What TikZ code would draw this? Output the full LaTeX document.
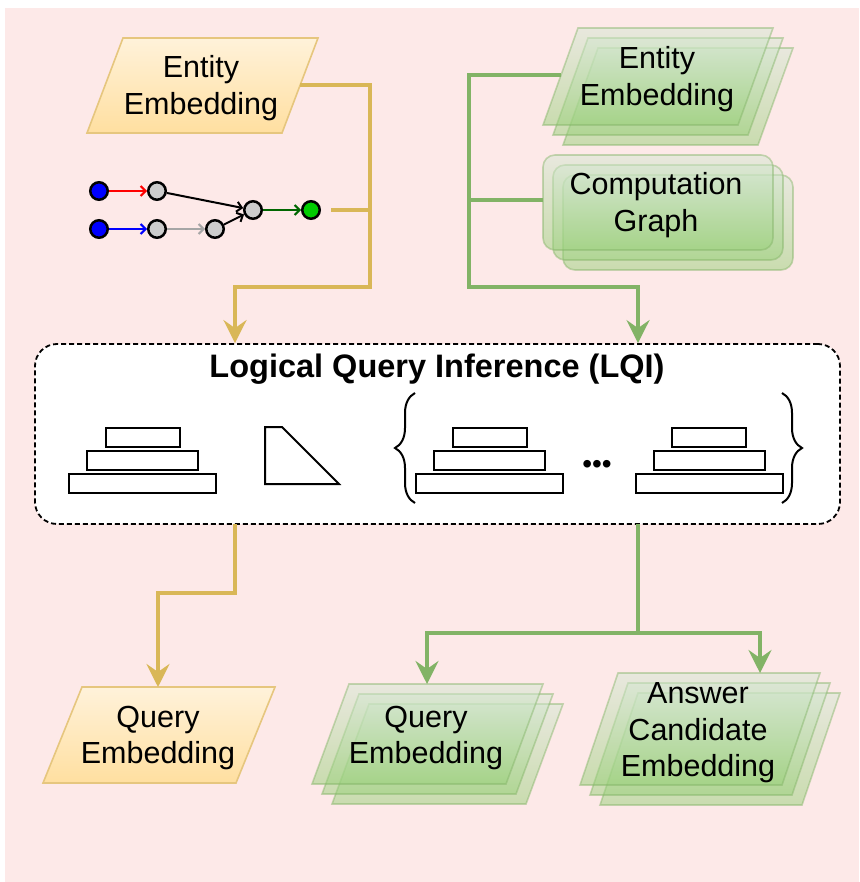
\documentclass[tikz,border=0pt]{standalone}
\usepackage{fontspec}
\setmainfont{Liberation Sans}
\usetikzlibrary{arrows.meta,decorations.pathreplacing}

\definecolor{bgpink}{HTML}{FDE9E8}
\definecolor{ystroke}{HTML}{E6C67E}
\definecolor{yline}{HTML}{D9B757}
\definecolor{ytop}{HTML}{FFF2DA}
\definecolor{ybot}{HTML}{FFDFA0}
\definecolor{gstroke}{HTML}{82B366}
\definecolor{gtop}{HTML}{D5E8D4}
\definecolor{gbot}{HTML}{97D077}
\definecolor{dgreen}{HTML}{006600}
\definecolor{nodegray}{HTML}{CCCCCC}
\definecolor{edgegray}{HTML}{A6A6A6}
\definecolor{leafgreen}{HTML}{00CC00}

% slanted box: style, bottom-left x, top y, edge length, height, slant
\newcommand\slantshape[6]{%
  \path[#1] (#2+#6,#3) -- (#2+#6+#4,#3) -- (#2+#4,#3+#5) -- (#2,#3+#5) -- cycle;}
% three stacked translucent copies, front one at the given place
\newcommand\slantstack[5]{%
  \slantshape{glayer}{#1+20}{#2+20}{#3}{#4}{#5}%
  \slantshape{glayer}{#1+10}{#2+10}{#3}{#4}{#5}%
  \slantshape{glayer}{#1}{#2}{#3}{#4}{#5}}
% stacked-bar block centred at x
\newcommand\pyr[1]{%
  \draw[blk] (#1-37,428) rectangle (#1+37,447);
  \draw[blk] (#1-55.5,451) rectangle (#1+55.5,469.5);
  \draw[blk] (#1-73.5,474) rectangle (#1+73.5,492.5);}

\begin{document}
\begin{tikzpicture}[x=1pt,y=-1pt,
  lbl/.style={font=\fontsize{30.5}{36.5}\selectfont, align=center, inner sep=0pt},
  yshape/.style={draw=ystroke, line width=1.6pt, top color=ytop, bottom color=ybot},
  glayer/.style={draw=gstroke, draw opacity=0.45, line width=1.6pt,
    top color=gtop, bottom color=gbot, fill opacity=0.5},
  yconn/.style={draw=yline, line width=3.5pt},
  gconn/.style={draw=gstroke, line width=3.5pt},
  bigtip/.style={-{Stealth[length=23pt,width=23pt,inset=8pt]}},
  gnode/.style={circle, draw, line width=2.5pt, minimum size=17.5pt, inner sep=0pt},
  gedge/.style={line width=2pt, -{Straight Barb[length=5pt,width=10pt]}},
  blk/.style={draw, line width=2pt, fill=white},
]
\useasboundingbox (0,0) rectangle (859,882);
\fill[white] (0,0) rectangle (859,882);
\fill[bgpink] (5,8) rectangle (859,882);

% ---------- inputs, left branch ----------
\slantshape{yshape}{87}{38}{195}{95}{36}
\node[lbl] (eeY) at (201,88) {Entity\\Embedding};

\node[gnode, fill=blue] (b1) at (99,191) {};
\node[gnode, fill=nodegray] (g1) at (157,191) {};
\node[gnode, fill=blue] (b2) at (99,229) {};
\node[gnode, fill=nodegray] (g2) at (157,229) {};
\node[gnode, fill=nodegray] (g3) at (215,229) {};
\node[gnode, fill=nodegray] (g4) at (253,210) {};
\node[gnode, fill=leafgreen] (tgt) at (311,210) {};
\draw[gedge, red] (b1) -- (g1);
\draw[gedge, blue] (b2) -- (g2);
\draw[gedge, edgegray] (g2) -- (g3);
\draw[gedge] (g1) -- (g4);
\draw[gedge] (g3) -- (g4);
\draw[gedge, dgreen] (g4) -- (tgt);

% ---------- inputs, right branch ----------
\slantstack{543}{28}{195}{97}{35}
\node[lbl] (eeG) at (657,79) {Entity\\Embedding};

\foreach \d in {20,10,0}
  \path[glayer, rounded corners=12pt] (543+\d,155+\d) rectangle (773+\d,250+\d);
\node[lbl] (cg) at (656,205) {Computation\\Graph};

% ---------- LQI block ----------
\node[draw, line width=1.8pt, dash pattern=on 5pt off 3pt, rounded corners=22pt,
  fill=white, minimum width=805pt, minimum height=180pt, inner sep=0pt]
  (lqi) at (437.5,434) {};
\node[font=\fontsize{32.5}{36}\selectfont\bfseries, anchor=base] (lqititle)
  at (437,377) {Logical Query Inference (LQI)};

\pyr{142.5}
\draw[blk] (265,427) -- (282,427) -- (339,484) -- (265,484) -- cycle;
\pyr{489.5}
\pyr{709}
\node[font=\fontsize{28}{36}\selectfont, anchor=base, inner sep=0pt] (dots)
  at (597,473) {•••};
\draw[line width=2pt, decorate, decoration={brace, amplitude=20pt}]
  (415,503) -- (415,393);
\draw[line width=2pt, decorate, decoration={brace, amplitude=20pt}]
  (782,393) -- (782,503);

% ---------- outputs ----------
\slantshape{yshape}{43}{687}{193}{96}{39}
\node[lbl] (qeY) at (158,738) {Query\\Embedding};

\slantstack{312}{684}{194}{100}{37}
\node[lbl] (qeG) at (426,738) {Query\\Embedding};

\slantstack{580}{673}{202}{112}{38}
\node[lbl] (ac) at (698,733) {Answer\\Candidate\\Embedding};

% ---------- connectors ----------
\coordinate (eyOut) at (300,85);
\coordinate (yJoin) at (370,287);
\coordinate (yDrop) at (235,287);
\coordinate (gOut) at (331,210);
\draw[yconn] (gOut) -- (gOut -| yJoin);
\draw[yconn, bigtip] (eyOut) -| (yJoin) -- (yDrop) -- (yDrop |- lqi.north);

\coordinate (egIn) at (561,75);
\coordinate (cgIn) at (543,200);
\coordinate (gJoin) at (469,287);
\coordinate (gDrop) at (638,287);
\draw[gconn] (cgIn) -- (cgIn -| gJoin);
\draw[gconn, bigtip] (egIn) -| (gJoin) -- (gDrop) -- (gDrop |- lqi.north);

\coordinate (yOut) at (235,524);
\coordinate (yStep) at (158,593);
\coordinate (yqIn) at (158,687);
\draw[yconn, bigtip] (yOut) |- (yStep) -- (yqIn);

\coordinate (gOutB) at (638,524);
\coordinate (gSplit) at (638,633);
\coordinate (gqIn) at (427,684);
\coordinate (acIn) at (760,673);
\draw[gconn] (gOutB) -- (gSplit);
\draw[gconn, bigtip] (gSplit) -| (gqIn);
\draw[gconn, bigtip] (gSplit) -| (acIn);
\end{tikzpicture}
\end{document}
